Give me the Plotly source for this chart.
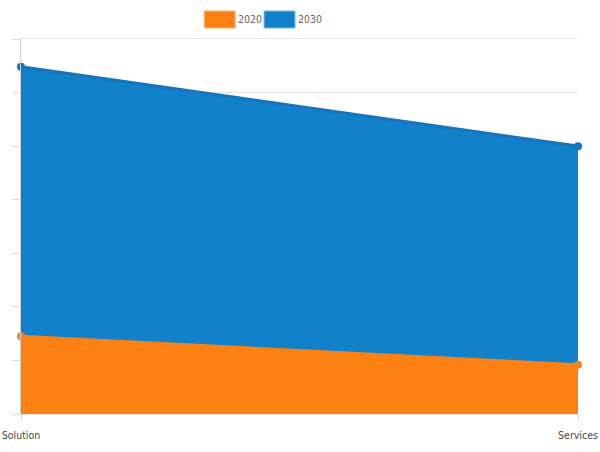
import plotly.graph_objects as go

# categories and values (y axis has no labels, 1 unit per gridline)
categories = ["Solution", "Services"]
values_2020 = [1.45, 0.92]
values_2030 = [6.48, 5.0]
series_names = ["2020", "2030"]

orange = "#FD8013"
blue = "#1181CA"
font_family = "DejaVu Sans Condensed, Liberation Sans Narrow, Arial"

# plot area position (px) in the reference
plot_left, plot_top, plot_w, plot_h = 20.5, 39, 558, 375

fig = go.Figure()

# 2030 goes first so the 2020 area sits on top of it
fig.add_trace(go.Scatter(
    x=categories,
    y=values_2030,
    name=series_names[1],
    mode="lines+markers",
    fill="tozeroy",
    fillcolor=blue,
    line=dict(color="#1675BB", width=3),
    marker=dict(color="#1675BB", size=8),
    cliponaxis=False,
    showlegend=False,
    hoverinfo="x+y+name",
))
fig.add_trace(go.Scatter(
    x=categories,
    y=values_2020,
    name=series_names[0],
    mode="lines+markers",
    fill="tozeroy",
    fillcolor=orange,
    line=dict(color="#F7821A", width=3),
    marker=dict(color="#F7821A", size=8),
    cliponaxis=False,
    showlegend=False,
    hoverinfo="x+y+name",
))

# legend drawn as boxes + text to get the wide rectangular swatches
legend_font = dict(family=font_family, size=10.5, color="#666666")
shapes = []
annotations = []
for left, name, color, edge in [(204, series_names[0], orange, "#FDB37A"),
                                (264, series_names[1], blue, "#7DB8E0")]:
    shapes.append(dict(
        type="rect", xref="paper", yref="paper",
        x0=(left - plot_left) / plot_w, x1=(left + 31 - plot_left) / plot_w,
        y0=(plot_top + plot_h - 28) / plot_h, y1=(plot_top + plot_h - 11) / plot_h,
        fillcolor=color, line=dict(color=edge, width=1), layer="above",
    ))
    annotations.append(dict(
        xref="paper", yref="paper",
        x=(left + 32 - plot_left) / plot_w, y=(plot_top + plot_h - 19.5) / plot_h,
        xanchor="left", yanchor="middle",
        text=name, showarrow=False, font=legend_font,
    ))

fig.update_layout(
    width=600,
    height=452,
    margin=dict(l=plot_left, r=600 - plot_left - plot_w,
                t=plot_top, b=452 - plot_top - plot_h),
    paper_bgcolor="white",
    plot_bgcolor="white",
    showlegend=False,
    shapes=shapes,
    annotations=annotations,
    xaxis=dict(
        type="category",
        range=[0, 1],
        automargin=False,
        showgrid=True,
        gridcolor="#E6E6E6",
        ticks="outside",
        ticklen=5,
        tickcolor="#D9D9D9",
        ticklabelstandoff=6,
        # mirrored line gives the top gridline at the range max
        showline=True,
        mirror=True,
        linecolor="#E6E6E6",
        zeroline=False,
        tickfont=dict(family=font_family, size=10.5, color="#444444"),
    ),
    yaxis=dict(
        range=[0, 7],
        dtick=1,
        automargin=False,
        showgrid=True,
        gridcolor="#E6E6E6",
        showticklabels=False,
        ticks="outside",
        ticklen=8,
        tickcolor="#D9D9D9",
        showline=True,
        linecolor="#D0D0D0",
        zeroline=True,
        zerolinecolor="#BFBFBF",
    ),
)

# drop the page's default 8px body margin so the figure sits at the window corner
fig.write_html("out.html", config={"displayModeBar": False},
               post_script="document.body.style.margin = '0';")
